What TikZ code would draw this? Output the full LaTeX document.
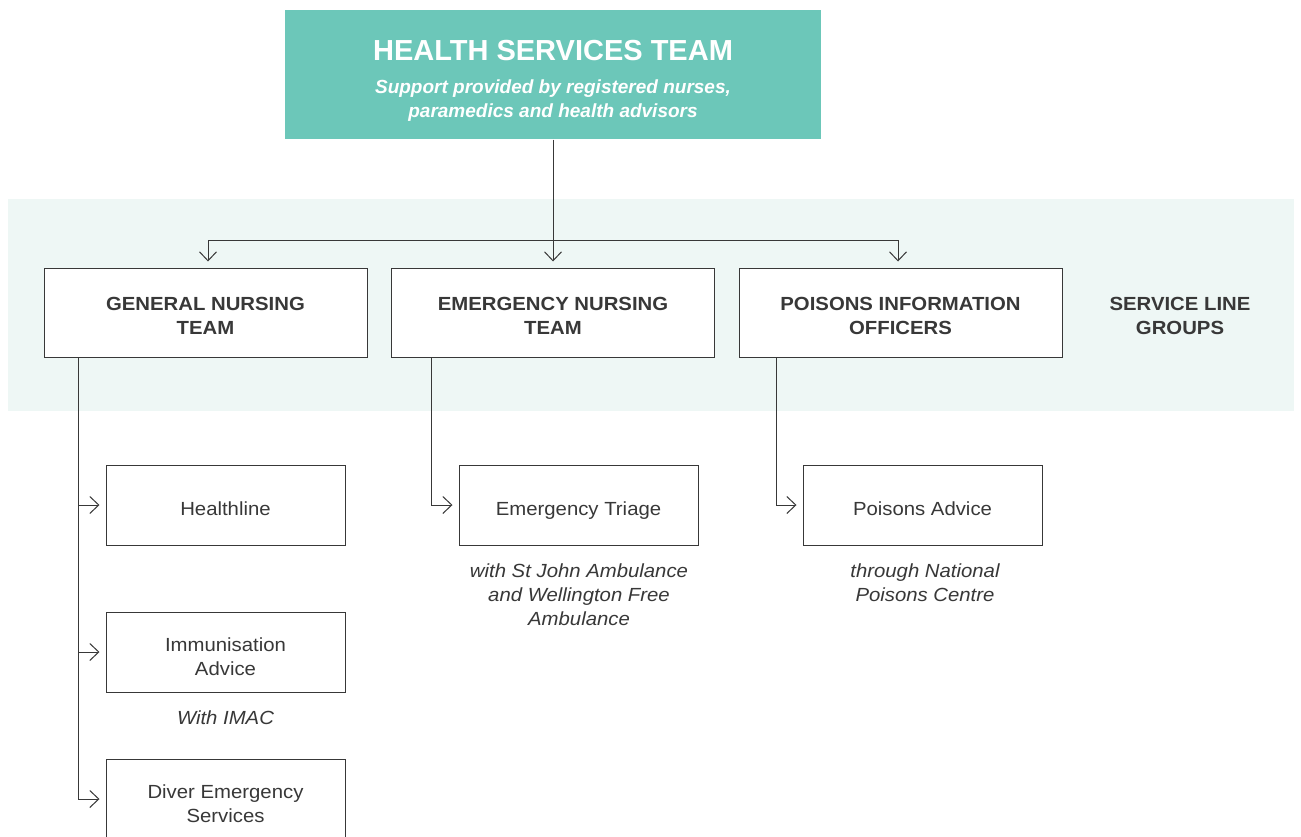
\documentclass[tikz,border=0pt]{standalone}
\usepackage{fontspec}
\setmainfont{Liberation Sans}[FakeStretch=1.07]
\newfontfamily\headfont{Liberation Sans}
\usetikzlibrary{arrows.meta}
\definecolor{headfill}{HTML}{6CC7B9}
\definecolor{band}{HTML}{EEF7F5}
\definecolor{ink}{HTML}{383838}
\begin{document}
\begin{tikzpicture}[x=1pt,y=-1pt,
  line width=1pt,
  conn/.style={draw=ink,line width=1pt},
  tip/.style={-{Straight Barb[length=9pt,width=17pt,line width=1pt]},shorten >=6pt},
  grpbox/.style={draw=ink,fill=white,minimum width=323pt,minimum height=89pt,inner sep=0pt},
  svcbox/.style={draw=ink,fill=white,minimum width=239pt,minimum height=80pt,inner sep=0pt},
  grptext/.style={align=center,text=ink,font=\fontsize{19}{24}\selectfont\bfseries},
  svctext/.style={align=center,text=ink,font=\fontsize{19}{24}\selectfont},
  oneline/.style={text height=14pt,text depth=4pt},
  note/.style={align=center,text=ink,font=\fontsize{19}{24}\selectfont\itshape}]
\useasboundingbox (0,0) rectangle (1301,836);
\clip (0,0) rectangle (1301,836);
\fill[white] (0,0) rectangle (1301,836);
% light band behind the service line groups
\fill[band] (8,199) rectangle (1294,411);

% head box
\node[fill=headfill,minimum width=536pt,minimum height=129pt,inner sep=0pt] (head) at (553,74.5) {};
\node[text=white,font=\headfont\fontsize{29}{34}\selectfont\bfseries] (title) at (553,51) {HEALTH SERVICES TEAM};
\node[text=white,align=center,font=\headfont\fontsize{19}{24}\selectfont\bfseries\itshape] (sub) at (553,101)
  {Support provided by registered nurses,\\paramedics and health advisors};

% service line groups
\node[grpbox] (gen) at (205.5,312.5) {};
\node[grpbox] (emg) at (553,312.5) {};
\node[grpbox] (poi) at (900.5,312.5) {};
\node[grptext] (gent) at ([yshift=-3pt]gen.center) {GENERAL NURSING\\TEAM};
\node[grptext] (emgt) at ([yshift=-3pt]emg.center) {EMERGENCY NURSING\\TEAM};
\node[grptext] (poit) at ([yshift=-3pt]poi.center) {POISONS INFORMATION\\OFFICERS};
\node[grptext] (slg) at (1180,316) {SERVICE LINE\\GROUPS};

% services
\node[svcbox] (hl) at (225.5,505) {};
\node[svcbox] (imm) at (225.5,652) {};
\node[svcbox,minimum height=88pt] (div) at (225.5,803) {};
\node[svcbox] (tri) at (578.5,505) {};
\node[svcbox] (pad) at (922.5,505) {};
\node[svctext,oneline] (hlt) at ([yshift=-5pt]hl.center) {Healthline};
\node[svctext] (immt) at ([yshift=-5pt]imm.center) {Immunisation\\Advice};
\node[svctext] (divt) at ([yshift=-1pt]div.center) {Diver Emergency\\Services};
\node[svctext,oneline] (trit) at ([yshift=-5pt]tri.center) {Emergency Triage};
\node[svctext,oneline] (padt) at ([yshift=-5pt]pad.center) {Poisons Advice};

% notes under services
\node[note,anchor=north] (n1) at (579,560) {with St John Ambulance\\and Wellington Free\\Ambulance};
\node[note,anchor=north] (n2) at (925,560) {through National\\Poisons Centre};
\node[note,anchor=north] (n3) at (225.5,707) {With IMAC};

% connectors from the head box
\coordinate (bus) at (553,240);
\coordinate (busl) at (208,240);
\coordinate (busr) at (898,240);
\draw[conn] (head.south) -- (bus);
\draw[conn] (busl) -- (busr);
\draw[conn,tip] (busl) -- (busl |- gen.north);
\draw[conn,tip] (bus) -- (bus |- emg.north);
\draw[conn,tip] (busr) -- (busr |- poi.north);

% general nursing branch
\coordinate (gv) at (78,357);
\coordinate (gend) at (78,799);
\draw[conn] (gv) -- (gend);
\draw[conn,tip] (gv |- hl.west) -- (hl.west);
\draw[conn,tip] (gv |- imm.west) -- (imm.west);
\draw[conn,tip] (gend) -- (gend -| div.west);

% emergency nursing branch
\coordinate (ev) at (431,357);
\draw[conn,tip] (ev) |- (tri.west);
% poisons branch
\coordinate (pv) at (776,357);
\draw[conn,tip] (pv) |- (pad.west);
\end{tikzpicture}
\end{document}
